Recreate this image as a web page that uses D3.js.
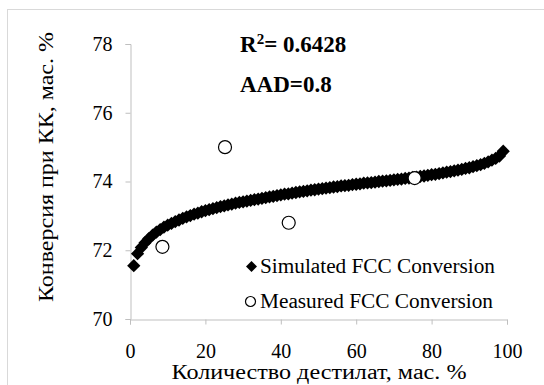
<!DOCTYPE html>
<html>
<head>
<meta charset="utf-8">
<script src="https://cdn.jsdelivr.net/npm/d3@7"></script>
<style>
  body { margin: 0; background: #fff; }
  svg { display: block; }
</style>
</head>
<body>
<div class="chart"></div>
<script>
// simulated conversion, one value per % of distillate (1..99)
const simX = d3.range(1, 100);
const simY = [
  71.55, 71.90, 72.08, 72.22, 72.34, 72.44, 72.53, 72.60, 72.67, 72.73,
  72.78, 72.83, 72.88, 72.93, 72.97, 73.01, 73.05, 73.08, 73.12, 73.15,
  73.18, 73.21, 73.24, 73.27, 73.29, 73.32, 73.34, 73.37, 73.39, 73.41,
  73.43, 73.45, 73.47, 73.49, 73.51, 73.53, 73.55, 73.57, 73.59, 73.61,
  73.63, 73.64, 73.66, 73.68, 73.70, 73.71, 73.73, 73.75, 73.76, 73.78,
  73.79, 73.81, 73.82, 73.84, 73.85, 73.87, 73.88, 73.89, 73.91, 73.92,
  73.93, 73.95, 73.96, 73.97, 73.98, 74.00, 74.01, 74.02, 74.03, 74.05,
  74.06, 74.07, 74.09, 74.10, 74.12, 74.13, 74.15, 74.16, 74.18, 74.20,
  74.21, 74.23, 74.25, 74.27, 74.29, 74.31, 74.33, 74.35, 74.38, 74.40,
  74.43, 74.46, 74.49, 74.53, 74.57, 74.62, 74.67, 74.74, 74.88
];

// measured conversion
const measX = [8.6, 25.2, 42.1, 75.5];
const measY = [72.1, 75.0, 72.8, 74.1];

// tick values
const xTicks = [0, 20, 40, 60, 80, 100];
const yTicks = [70, 72, 74, 76, 78];

// labels
const xTitle = "Количество дестилат, мас. %";
const yTitle = "Конверсия при КК, мас. %";
const legendNames = ["Simulated FCC Conversion", "Measured FCC Conversion"];

// canvas size
const width = 544;
const height = 385;
const axisColor = "#bfbfbf";
const fontSize = "20px";

const svg = d3
  .select(".chart")
  .append("svg")
  .attr("width", width)
  .attr("height", height);

// outer frame
svg
  .append("rect")
  .attr("x", 7.5)
  .attr("y", 9.5)
  .attr("width", 560)
  .attr("height", 400)
  .attr("fill", "none")
  .attr("stroke", "#d9d9d9");

// scales
const xScale = d3.scaleLinear().domain([0, 100]).range([130, 507]);
const yScale = d3.scaleLinear().domain([70, 78]).range([319, 44]);

// y axis
const yAxis = svg
  .append("g")
  .attr("transform", "translate(130.5, 0)")
  .call(d3.axisLeft(yScale).tickValues(yTicks).tickSize(5).tickPadding(13));

// x axis
const xAxis = svg
  .append("g")
  .attr("transform", "translate(0, 319.5)")
  .call(d3.axisBottom(xScale).tickValues(xTicks).tickSize(5).tickPadding(19));

[xAxis, yAxis].forEach(function (ax) {
  ax.selectAll("path, line").attr("stroke", axisColor);
  ax.selectAll("text").attr("fill", "#000").style("font-size", fontSize);
});

// simulated series (square rotated 45deg)
const diamond = d3.symbol(d3.symbolSquare, 88);

svg
  .append("g")
  .selectAll("path")
  .data(simX)
  .enter()
  .append("path")
  .attr("d", diamond)
  .attr("transform", function (d, i) {
    return "translate(" + xScale(d) + "," + yScale(simY[i]) + ") rotate(45)";
  })
  .attr("fill", "#000");

// measured series
svg
  .append("g")
  .selectAll("circle")
  .data(measX)
  .enter()
  .append("circle")
  .attr("cx", function (d) {
    return xScale(d);
  })
  .attr("cy", function (d, i) {
    return yScale(measY[i]);
  })
  .attr("r", 6.5)
  .attr("fill", "#fff")
  .attr("stroke", "#000")
  .attr("stroke-width", 1.2);

// annotations
const r2 = svg
  .append("text")
  .attr("x", 240)
  .attr("y", 51.7)
  .style("font-size", "23px")
  .style("font-weight", "bold");
r2.append("tspan").text("R");
r2.append("tspan")
  .attr("dy", -8)
  .style("font-size", "15px")
  .text("2");
r2.append("tspan").attr("dy", 8).text("= 0.6428");

svg
  .append("text")
  .attr("x", 240)
  .attr("y", 91.7)
  .style("font-size", "23px")
  .style("font-weight", "bold")
  .text("AAD=0.8");

// legend
svg
  .append("path")
  .attr("d", d3.symbol(d3.symbolSquare, 60))
  .attr("transform", "translate(251.5, 266.5) rotate(45)")
  .attr("fill", "#000");

svg
  .append("circle")
  .attr("cx", 250.5)
  .attr("cy", 301.5)
  .attr("r", 5)
  .attr("fill", "#fff")
  .attr("stroke", "#000")
  .attr("stroke-width", 1.2);

const legendWidths = [235, 233];

svg
  .selectAll(".legend-label")
  .data(legendNames)
  .enter()
  .append("text")
  .attr("class", "legend-label")
  .attr("x", 260)
  .attr("y", function (d, i) {
    return 273 + i * 34.5;
  })
  .attr("textLength", function (d, i) {
    return legendWidths[i];
  })
  .attr("lengthAdjust", "spacingAndGlyphs")
  .style("font-size", fontSize)
  .text(function (d) {
    return d;
  });

// axis titles
svg
  .append("text")
  .attr("x", 319)
  .attr("y", 379)
  .attr("text-anchor", "middle")
  .attr("textLength", 295)
  .attr("lengthAdjust", "spacingAndGlyphs")
  .style("font-size", fontSize)
  .text(xTitle);

svg
  .append("text")
  .attr("transform", "translate(53, 167) rotate(-90)")
  .attr("text-anchor", "middle")
  .attr("textLength", 270)
  .attr("lengthAdjust", "spacingAndGlyphs")
  .style("font-size", "21px")
  .text(yTitle);

// one serif face for every text
svg
  .selectAll("text")
  .style("font-family", "'Liberation Serif', 'Times New Roman', serif");
</script>
</body>
</html>
